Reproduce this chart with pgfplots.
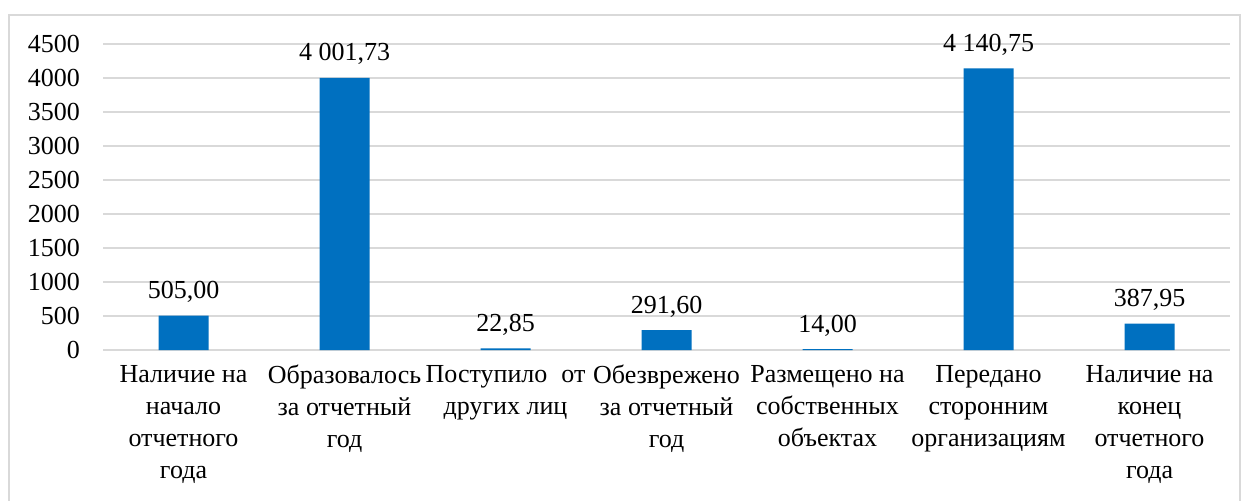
\documentclass[border=0pt]{standalone}
\usepackage{fontspec}
\setmainfont{Liberation Serif}
\usepackage{pgfplots}
\pgfplotsset{compat=1.18}
\definecolor{barblue}{HTML}{0070C0}
\definecolor{gridgray}{HTML}{D9D9D9}
\begin{document}
\begin{tikzpicture}[x=1bp,y=1bp]
\clip (0,0) rectangle (623.5,250);
\fill[white] (0,0) rectangle (623.5,250);
\draw[gridgray, line width=1bp] (4.5,-10) rectangle (620,242.5);
\begin{axis}[
    at={(51.5bp,75bp)}, anchor=south west,
    scale only axis,
    width=563.5bp, height=153bp,
    ybar, bar width=25bp,
    xmin=-0.5, xmax=6.5,
    ymin=0, ymax=4500,
    ytick={0,500,...,4500},
    xtick={0,...,6},
    xticklabels={
        {Наличие на\\начало\\отчетного\\года},
        {Образовалось\\за отчетный\\год},
        {Поступило\hspace{7bp}от\\других лиц},
        {Обезврежено\\за отчетный\\год},
        {Размещено на\\собственных\\объектах},
        {Передано\\сторонним\\организациям},
        {Наличие на\\конец\\отчетного\\года}},
    font=\fontsize{13bp}{16bp}\selectfont,
    xticklabel style={align=center, anchor=north, yshift=-4bp},
    yticklabel style={anchor=east, xshift=-8bp},
    /pgf/number format/assume math mode=true,
    /pgf/number format/set thousands separator={},
    scaled y ticks=false,
    ymajorgrids,
    grid style={gridgray, line width=0.8bp},
    axis line style={draw=none},
    major tick length=0pt,
    point meta=explicit symbolic,
    nodes near coords,
    nodes near coords style={anchor=base, yshift=8.5bp, font=\fontsize{13bp}{16bp}\selectfont},
]
\addplot[fill=barblue, draw=none] coordinates {
    (0,505.00) [505,00]
    (1,4001.73) [4 001,73]
    (2,22.85) [22,85]
    (3,291.60) [291,60]
    (4,14.00) [14,00]
    (5,4140.75) [4 140,75]
    (6,387.95) [387,95]
};
\end{axis}
\end{tikzpicture}
\end{document}
